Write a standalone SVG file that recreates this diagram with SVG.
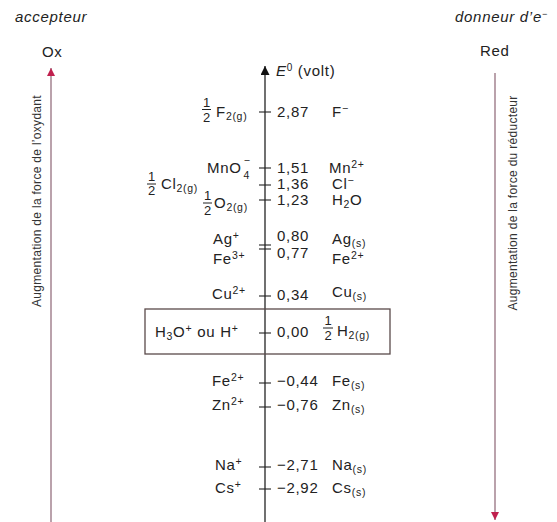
<svg xmlns="http://www.w3.org/2000/svg" width="557" height="522" viewBox="0 0 557 522">
<style>
.t{font-family:"Liberation Sans",Arial,sans-serif;font-size:15px;fill:#222;letter-spacing:0.7px}
.i{font-style:italic}
.f{font-size:13px;letter-spacing:0}
.v{font-family:"Liberation Sans",Arial,sans-serif;font-size:12px;fill:#333;letter-spacing:0.3px}
.bar{stroke:#222;stroke-width:1}
.tick{stroke:#222;stroke-width:1.1}
.ax{stroke:#111;stroke-width:1.2;fill:none}
.side{stroke:#8c6474;stroke-width:1.2;fill:none}
</style>
<defs>
<marker id="ah" viewBox="0 0 10 10" refX="10" refY="5" markerWidth="9" markerHeight="9" markerUnits="userSpaceOnUse" orient="auto"><path d="M0,0 L10,5 L0,10 z" fill="#111"/></marker>
<marker id="rh" viewBox="0 0 10 10" refX="10" refY="5" markerWidth="8" markerHeight="8" markerUnits="userSpaceOnUse" orient="auto"><path d="M0,0 L10,5 L0,10 z" fill="#c0204e"/></marker>
</defs>
<rect width="557" height="522" fill="#fff"/>

<g id="connectors">
<line class="ax" x1="265" y1="522" x2="265" y2="66" marker-end="url(#ah)"/>
<line class="side" x1="51" y1="522" x2="51" y2="68" marker-end="url(#rh)"/>
<line class="side" x1="495" y1="73" x2="495" y2="520" marker-end="url(#rh)"/>
<line class="tick" x1="259" y1="112" x2="271" y2="112"/>
<line class="tick" x1="259" y1="168" x2="271" y2="168"/>
<line class="tick" x1="259" y1="185" x2="271" y2="185"/>
<line class="tick" x1="259" y1="200" x2="271" y2="200"/>
<line class="tick" x1="259" y1="245" x2="271" y2="245"/>
<line class="tick" x1="259" y1="249" x2="271" y2="249"/>
<line class="tick" x1="259" y1="296" x2="271" y2="296"/>
<line class="tick" x1="259" y1="333" x2="271" y2="333"/>
<line class="tick" x1="259" y1="383" x2="271" y2="383"/>
<line class="tick" x1="259" y1="407" x2="271" y2="407"/>
<line class="tick" x1="259" y1="467" x2="271" y2="467"/>
<line class="tick" x1="259" y1="489" x2="271" y2="489"/>
</g>

<g id="headers">
<text class="t i" x="15" y="22">accepteur</text>
<text class="t" x="42" y="57">Ox</text>
<text class="t i" x="455" y="22" letter-spacing="0.3">donneur d’e<tspan dy="-5" font-size="9">−</tspan></text>
<text class="t" x="480" y="56">Red</text>
<text class="t" x="276" y="76"><tspan class="i">E</tspan><tspan dy="-5" font-size="10">0</tspan><tspan dy="5"> (volt)</tspan></text>
</g>

<g id="side-labels">
<text class="v" transform="translate(41,201) rotate(-90)" text-anchor="middle">Augmentation de la force de l’oxydant</text>
<text class="v" transform="translate(517,203) rotate(-90)" text-anchor="middle">Augmentation de la force du réducteur</text>
</g>

<g id="F">
<text class="t f" x="206.5" y="107" text-anchor="middle">1</text>
<line class="bar" x1="202" y1="109.5" x2="211" y2="109.5"/>
<text class="t f" x="206.5" y="121.5" text-anchor="middle">2</text>
<text class="t" x="216" y="117">F<tspan dy="3" font-size="10.5">2(g)</tspan></text>
<text class="t" x="277" y="117">2,87</text>
<text class="t" x="332" y="117">F<tspan dy="-5" font-size="10.5">−</tspan></text>
</g>

<g id="Mn">
<text class="t" x="207" y="173">MnO<tspan dx="2" dy="6" font-size="10.5">4</tspan><tspan dx="-6.5" dy="-15" font-size="10.5">−</tspan></text>
<text class="t" x="277" y="173">1,51</text>
<text class="t" x="329" y="173">Mn<tspan dy="-5" font-size="10.5">2+</tspan></text>
</g>

<g id="Cl">
<text class="t f" x="151.5" y="180.5" text-anchor="middle">1</text>
<line class="bar" x1="147" y1="184" x2="156" y2="184"/>
<text class="t f" x="151.5" y="195" text-anchor="middle">2</text>
<text class="t" x="161" y="189">Cl<tspan dy="3" font-size="10.5">2(g)</tspan></text>
<text class="t" x="277" y="189">1,36</text>
<text class="t" x="332" y="189">Cl<tspan dy="-5" font-size="10.5">−</tspan></text>
</g>

<g id="O">
<text class="t f" x="207.5" y="200" text-anchor="middle">1</text>
<line class="bar" x1="203" y1="203" x2="212" y2="203"/>
<text class="t f" x="207.5" y="215" text-anchor="middle">2</text>
<text class="t" x="214" y="208">O<tspan dy="3" font-size="10.5">2(g)</tspan></text>
<text class="t" x="277" y="205">1,23</text>
<text class="t" x="332" y="205">H<tspan dy="3" font-size="10.5">2</tspan><tspan dy="-3">O</tspan></text>
</g>

<g id="Ag">
<text class="t" x="213" y="244">Ag<tspan dy="-5" font-size="10.5">+</tspan></text>
<text class="t" x="277" y="241">0,80</text>
<text class="t" x="332" y="244">Ag<tspan dy="3" font-size="10.5">(s)</tspan></text>
</g>

<g id="Fe3">
<text class="t" x="213" y="264">Fe<tspan dy="-5" font-size="10.5">3+</tspan></text>
<text class="t" x="277" y="258">0,77</text>
<text class="t" x="332" y="264">Fe<tspan dy="-5" font-size="10.5">2+</tspan></text>
</g>

<g id="Cu">
<text class="t" x="212" y="299">Cu<tspan dy="-5" font-size="10.5">2+</tspan></text>
<text class="t" x="277" y="300">0,34</text>
<text class="t" x="332" y="297">Cu<tspan dy="3" font-size="10.5">(s)</tspan></text>
</g>

<g id="H">
<rect x="145" y="309" width="245" height="45" fill="none" stroke="#5a4a4a" stroke-width="1.3"/>
<text class="t" x="155" y="337">H<tspan dy="3" font-size="10.5">3</tspan><tspan dy="-3">O</tspan><tspan dy="-5" font-size="10.5">+</tspan><tspan dy="5"> ou H</tspan><tspan dy="-5" font-size="10.5">+</tspan></text>
<text class="t" x="277" y="337">0,00</text>
<text class="t f" x="328" y="325" text-anchor="middle">1</text>
<line class="bar" x1="323" y1="328" x2="333" y2="328"/>
<text class="t f" x="328" y="339.5" text-anchor="middle">2</text>
<text class="t" x="337" y="336">H<tspan dy="3" font-size="10.5">2(g)</tspan></text>
</g>

<g id="Fe2">
<text class="t" x="212" y="386">Fe<tspan dy="-5" font-size="10.5">2+</tspan></text>
<text class="t" x="277" y="386">−0,44</text>
<text class="t" x="332" y="386">Fe<tspan dy="3" font-size="10.5">(s)</tspan></text>
</g>

<g id="Zn">
<text class="t" x="212" y="410">Zn<tspan dy="-5" font-size="10.5">2+</tspan></text>
<text class="t" x="277" y="410">−0,76</text>
<text class="t" x="332" y="410">Zn<tspan dy="3" font-size="10.5">(s)</tspan></text>
</g>

<g id="Na">
<text class="t" x="215" y="470">Na<tspan dy="-5" font-size="10.5">+</tspan></text>
<text class="t" x="277" y="470">−2,71</text>
<text class="t" x="332" y="470">Na<tspan dy="3" font-size="10.5">(s)</tspan></text>
</g>

<g id="Cs">
<text class="t" x="215" y="493">Cs<tspan dy="-5" font-size="10.5">+</tspan></text>
<text class="t" x="277" y="493">−2,92</text>
<text class="t" x="332" y="493">Cs<tspan dy="3" font-size="10.5">(s)</tspan></text>
</g>
</svg>
